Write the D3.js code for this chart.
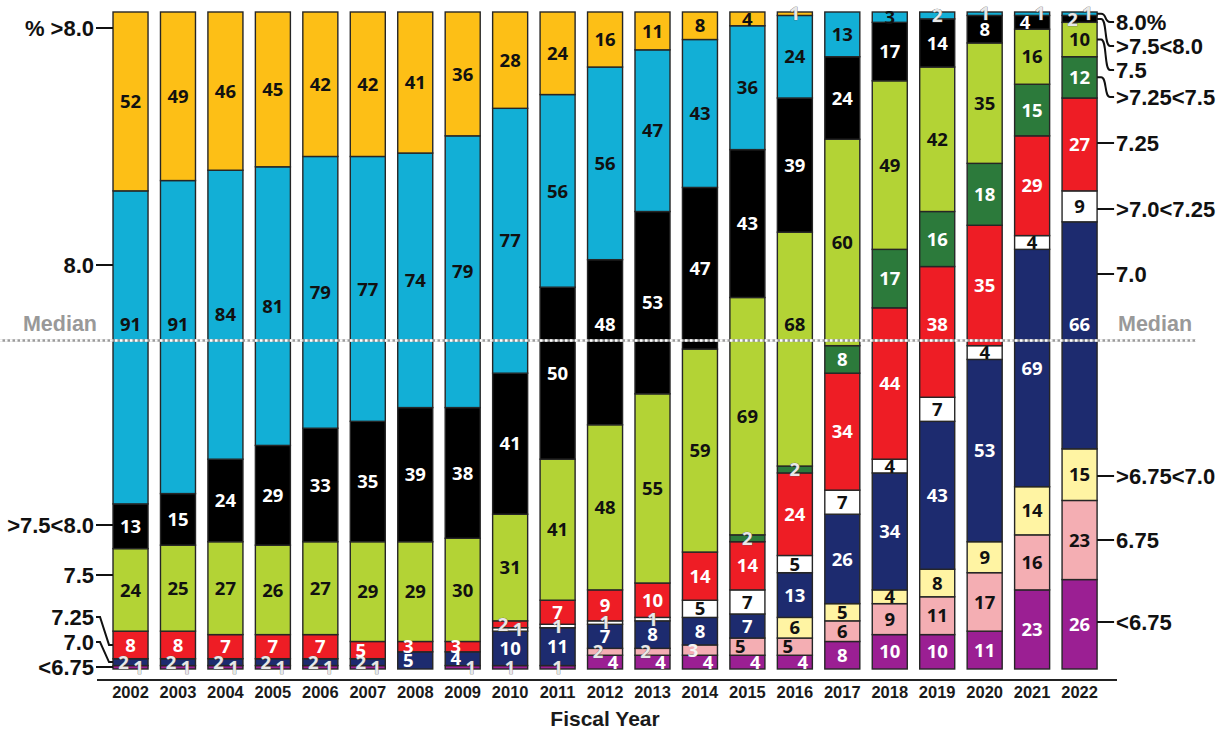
<!DOCTYPE html>
<html>
<head>
<meta charset="utf-8">
<script src="https://cdn.jsdelivr.net/npm/d3@7/dist/d3.min.js"></script>
<style>body { margin: 0; background: #fff; }</style>
</head>
<body>
<svg class="chart" width="1225" height="729"></svg>
<script>
// data: counts per year, stacked bottom -> top
const years = [2002, 2003, 2004, 2005, 2006, 2007, 2008, 2009, 2010, 2011, 2012,
               2013, 2014, 2015, 2016, 2017, 2018, 2019, 2020, 2021, 2022];
const below675  = [1, 1, 1, 1, 1, 1, 0, 1, 1, 1, 4, 4, 4, 4, 4, 8, 10, 10, 11, 23, 26];
const at675     = [0, 0, 0, 0, 0, 0, 0, 0, 0, 0, 2, 2, 3, 5, 5, 6, 9, 11, 17, 16, 23];
const from675to7 = [0, 0, 0, 0, 0, 0, 0, 0, 0, 0, 0, 0, 0, 0, 6, 5, 4, 8, 9, 14, 15];
const at70      = [2, 2, 2, 2, 2, 2, 5, 4, 10, 11, 7, 8, 8, 7, 13, 26, 34, 43, 53, 69, 66];
const from7to725 = [0, 0, 0, 0, 0, 0, 0, 0, 1, 1, 1, 1, 5, 7, 5, 7, 4, 7, 4, 4, 9];
const at725     = [8, 8, 7, 7, 7, 5, 3, 3, 2, 7, 9, 10, 14, 14, 24, 34, 44, 38, 35, 29, 27];
const from725to75 = [0, 0, 0, 0, 0, 0, 0, 0, 0, 0, 0, 0, 0, 2, 2, 8, 17, 16, 18, 15, 12];
const at75      = [24, 25, 27, 26, 27, 29, 29, 30, 31, 41, 48, 55, 59, 69, 68, 60, 49, 42, 35, 16, 10];
const from75to8 = [13, 15, 24, 29, 33, 35, 39, 38, 41, 50, 48, 53, 47, 43, 39, 24, 17, 14, 8, 4, 2];
const at80      = [91, 91, 84, 81, 79, 77, 74, 79, 77, 56, 56, 47, 43, 36, 24, 13, 3, 2, 1, 1, 1];
const above80   = [52, 49, 46, 45, 42, 42, 41, 36, 28, 24, 16, 11, 8, 4, 1, 0, 0, 0, 0, 0, 0];

const categories = [
  { key: "<6.75",      values: below675,    color: "#9B1F93", ink: "#fff" },
  { key: "6.75",       values: at675,       color: "#F4AEB3", ink: "#111" },
  { key: ">6.75<7.0",  values: from675to7,  color: "#FFF4A3", ink: "#111" },
  { key: "7.0",        values: at70,        color: "#1D2B6F", ink: "#fff" },
  { key: ">7.0<7.25",  values: from7to725,  color: "#FFFFFF", ink: "#111" },
  { key: "7.25",       values: at725,       color: "#EE1D25", ink: "#fff" },
  { key: ">7.25<7.5",  values: from725to75, color: "#2C7A3B", ink: "#fff" },
  { key: "7.5",        values: at75,        color: "#B3D335", ink: "#111" },
  { key: ">7.5<8.0",   values: from75to8,   color: "#000000", ink: "#fff" },
  { key: "8.0",        values: at80,        color: "#12AFD6", ink: "#111" },
  { key: ">8.0",       values: above80,     color: "#FDBF16", ink: "#111" }
];

const leftLabels = [
  { key: ">8.0", text: "% >8.0", y: 28 },
  { key: "8.0", text: "8.0", y: 265 },
  { key: ">7.5<8.0", text: ">7.5<8.0", y: 525 },
  { key: "7.5", text: "7.5", y: 575 },
  { key: "7.25", text: "7.25", y: 617 },
  { key: "7.0", text: "7.0", y: 642 },
  { key: "<6.75", text: "<6.75", y: 667 }
];
const rightLabels = [
  { key: "8.0", text: "8.0%", y: 22 },
  { key: ">7.5<8.0", text: ">7.5<8.0", y: 46 },
  { key: "7.5", text: "7.5", y: 70 },
  { key: ">7.25<7.5", text: ">7.25<7.5", y: 97 },
  { key: "7.25", text: "7.25", y: 143 },
  { key: ">7.0<7.25", text: ">7.0<7.25", y: 209 },
  { key: "7.0", text: "7.0", y: 274 },
  { key: ">6.75<7.0", text: ">6.75<7.0", y: 476 },
  { key: "6.75", text: "6.75", y: 540 },
  { key: "<6.75", text: "<6.75", y: 622 }
];

const LABEL_FONT = "'Liberation Sans', Arial, sans-serif";
const VALUE_FONT = "'Open Sans', sans-serif";
const BAR_TOP = 12;
const BAR_BOTTOM = 669;

var chart = d3.select(".chart");

var x = d3.scaleBand().domain(years).range([106.8, 1103.3]).paddingInner(0.262).paddingOuter(0.131);
var y = d3.scaleLinear().domain([0, 1]).range([BAR_BOTTOM, BAR_TOP]);
var yMed = y(0.5);

// build the stacks (shares of the yearly total)
var stacks = years.map(function(yr, i) {
  var total = d3.sum(categories, function(c) { return c.values[i]; });
  var acc = 0;
  return categories.map(function(c, k) {
    var v = c.values[i];
    var seg = { year: yr, idx: k, cat: c, value: v, y0: acc / total, y1: (acc + v) / total };
    acc += v;
    return seg;
  });
});

var bars = chart.append("g").selectAll("g")
  .data(stacks)
  .enter().append("g");

bars.selectAll("rect")
  .data(function(d) { return d.filter(function(s) { return s.value > 0; }); })
  .enter().append("rect")
  .attr("x", function(d) { return x(d.year); })
  .attr("width", x.bandwidth())
  .attr("y", function(d) { return y(d.y1); })
  .attr("height", function(d) { return y(d.y0) - y(d.y1); })
  .attr("fill", function(d) { return d.cat.color; })
  .attr("stroke", "#262626")
  .attr("stroke-width", 1.4);

// thin neighbours get their labels pushed sideways so they don't overlap
function labelShift(seg, stack) {
  if (seg.value > 5) return 0;
  var live = stack.filter(function(s) { return s.value > 0; });
  var p = live.indexOf(seg);
  var below = live[p - 1], above = live[p + 1];
  var crowded = (below && below.value <= 5) || (above && above.value <= 5);
  if (!crowded) return 0;
  var left = (seg.idx % 2 === 1) === (seg.idx < 8);
  return left ? -7 : 8;
}

// keep the labels off the dotted median line
function labelY(d) {
  var c = (y(d.y0) + y(d.y1)) / 2;
  if (Math.abs(c - yMed) < 20 && y(d.y1) < yMed - 30) return yMed - 16;
  return c;
}

function labelInk(d) {
  if (d.value <= 2) return "#e8e8e8";
  if (d.cat.key === "6.75" && d.value < 5) return "#f4f4f4";
  return d.cat.ink;
}

bars.each(function(stack) {
  d3.select(this).selectAll("text")
    .data(stack.filter(function(s) { return s.value > 0; }))
    .enter().append("text")
    .attr("x", function(d) { return x(d.year) + x.bandwidth() / 2 + labelShift(d, stack); })
    .attr("y", labelY)
    .attr("dy", ".36em")
    .attr("text-anchor", "middle")
    .attr("font-family", VALUE_FONT)
    .attr("font-weight", "bold")
    .attr("font-size", "18.5px")
    .attr("fill", labelInk)
    .attr("stroke", function(d) { return d.value <= 2 ? "#555" : "none"; })
    .attr("stroke-width", 0.6)
    .attr("paint-order", "stroke")
    .text(function(d) { return d.value; });
});

// median line
chart.append("line")
  .attr("x1", 0).attr("x2", 1196).attr("y1", yMed).attr("y2", yMed)
  .attr("stroke", "#9a9a9a").attr("stroke-width", 2.5);
chart.append("line")
  .attr("x1", 0).attr("x2", 1196).attr("y1", yMed).attr("y2", yMed)
  .attr("stroke", "#fff").attr("stroke-width", 2.5)
  .attr("stroke-dasharray", "2.5,2.5");

chart.append("text").attr("x", 97).attr("y", 323).attr("dy", ".35em")
  .attr("text-anchor", "end").attr("font-family", LABEL_FONT).attr("font-weight", "bold")
  .attr("font-size", "21.5px").attr("fill", "#999").text("Median");
chart.append("text").attr("x", 1118).attr("y", 323).attr("dy", ".35em")
  .attr("font-family", LABEL_FONT).attr("font-weight", "bold")
  .attr("font-size", "21.5px").attr("fill", "#999").text("Median");

// category labels with leader lines
function segmentOf(stack, key) {
  return stack.filter(function(s) { return s.cat.key === key; })[0];
}

function drawSideLabels(specs, stack, side) {
  var g = chart.append("g");
  var edge = side === "left" ? x(stack[0].year) : x(stack[0].year) + x.bandwidth();
  var dir = side === "left" ? -1 : 1;
  specs.forEach(function(s) {
    var seg = segmentOf(stack, s.key);
    var top = y(seg.y1), bot = y(seg.y0), mid = (top + bot) / 2;
    var straight = (s.y >= top + 4 && s.y <= bot - 4) || Math.abs(s.y - mid) < 3;
    var tipX = edge + dir * 17;
    var path;
    if (straight) {
      path = "M" + edge + "," + s.y + "H" + tipX;
    } else if (side === "left") {
      path = "M" + edge + "," + mid + "H" + (edge - 4) + "L" + (edge - 13) + "," + s.y + "H" + tipX;
    } else {
      path = "M" + edge + "," + mid + "H" + (edge + 4) +
             "C" + (edge + 10) + "," + mid + " " + (edge + 7) + "," + s.y + " " + (edge + 13) + "," + s.y +
             "H" + tipX;
    }
    g.append("path").attr("d", path).attr("fill", "none")
      .attr("stroke", "#111").attr("stroke-width", 2);
    g.append("text")
      .attr("x", tipX + dir * 2)
      .attr("y", s.y)
      .attr("dy", ".36em")
      .attr("text-anchor", side === "left" ? "end" : "start")
      .attr("font-family", LABEL_FONT)
      .attr("font-weight", "bold")
      .attr("font-size", "22px")
      .attr("fill", "#111")
      .text(s.text);
  });
}

drawSideLabels(leftLabels, stacks[0], "left");
drawSideLabels(rightLabels, stacks[stacks.length - 1], "right");

// x axis
chart.append("line")
  .attr("x1", 97).attr("x2", 1117).attr("y1", 680).attr("y2", 680)
  .attr("stroke", "#222").attr("stroke-width", 2.2);

chart.append("g").selectAll("text")
  .data(years)
  .enter().append("text")
  .attr("x", function(d) { return x(d) + x.bandwidth() / 2; })
  .attr("y", 692)
  .attr("dy", ".36em")
  .attr("text-anchor", "middle")
  .attr("font-family", LABEL_FONT)
  .attr("font-weight", "bold")
  .attr("font-size", "16.5px")
  .attr("fill", "#1a1a1a")
  .text(function(d) { return d; });

chart.append("text")
  .attr("x", 605).attr("y", 718).attr("dy", ".36em")
  .attr("text-anchor", "middle")
  .attr("font-family", LABEL_FONT)
  .attr("font-weight", "bold")
  .attr("font-size", "21px")
  .attr("fill", "#1a1a1a")
  .text("Fiscal Year");
</script>
</body>
</html>
